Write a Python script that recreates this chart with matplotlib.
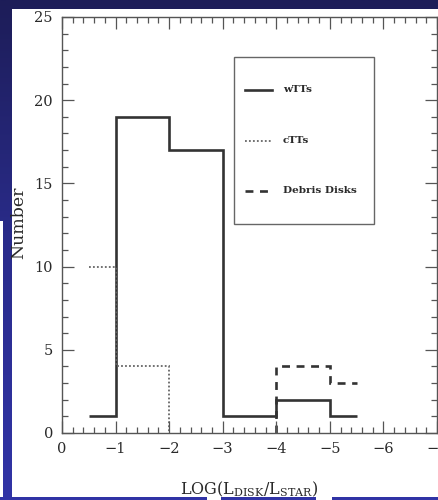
import numpy as np
import matplotlib.pyplot as plt
from matplotlib.patches import Rectangle
from matplotlib.lines import Line2D
from matplotlib.colors import LinearSegmentedColormap

# histogram data (bin edges along LOG(Ldisk/Lstar), counts per bin)
wtts_edges = [-0.5, -1, -2, -3, -4, -5, -5.5]
wtts_counts = [1, 19, 17, 1, 2, 1]

ctts_edges = [-0.5, -1, -2, -2]
ctts_counts = [10, 4, 0]

debris_edges = [-4, -4, -5, -5.5]
debris_counts = [0, 4, 3]

legend_labels = ["wTTs", "cTTs", "Debris Disks"]

plt.rcParams['font.family'] = ['DejaVu Serif']
plt.rcParams['mathtext.fontset'] = 'dejavuserif'

fig = plt.figure(figsize=(4.39, 5.0), dpi=100)

# slide background: navy gradient with a white panel
bg = fig.add_axes([0, 0, 1, 1], zorder=-10)
bg.set_axis_off()
grad = np.linspace(0, 1, 256).reshape(-1, 1)
navy = LinearSegmentedColormap.from_list("navy", ["#1d1d58", "#2a2c8c", "#3134a6"])
bg.imshow(grad, aspect='auto', cmap=navy, extent=[0, 1, 0, 1], origin='upper')
W, H = 439.0, 500.0
def px_rect(x0, y0, x1, y1):
    bg.add_patch(Rectangle((x0 / W, 1 - y1 / H), (x1 - x0) / W, (y1 - y0) / H,
                           facecolor="white", edgecolor="none"))
px_rect(12, 9, 440, 497)
px_rect(0, 221, 2.5, 497)
px_rect(207, 496, 221, 501)
px_rect(316, 496, 332, 501)
bg.set_xlim(0, 1)
bg.set_ylim(0, 1)

ax = fig.add_axes([62 / W, 1 - 433 / H, 375 / W, 416 / H])
ax.set_facecolor("none")

ax.stairs(wtts_counts, wtts_edges, baseline=None, color="#333333", lw=1.9)
ax.stairs(ctts_counts, ctts_edges, baseline=None, color="#666666", lw=1.3,
          linestyle=(0, (1, 1.2)))
ax.stairs(debris_counts, debris_edges, baseline=None, color="#333333", lw=1.9,
          linestyle=(0, (3, 2.5)))

ax.set_xlim(0, -7)
ax.set_ylim(0, 25)
ax.set_xticks(np.arange(0, -8, -1))
ax.set_xticks(np.arange(0, -7.01, -0.2), minor=True)
ax.set_yticks(np.arange(0, 26, 5))
ax.set_yticks(np.arange(0, 26, 1), minor=True)
ax.xaxis.set_major_formatter(plt.FuncFormatter(lambda v, p: "0" if v == 0 else "\u2212%d" % abs(v)))
ax.tick_params(which='both', direction='in', top=True, right=True,
               color="#555555", width=0.9, labelcolor="#2a2a2a", labelsize=10.5, pad=6.5)
ax.tick_params(which='major', length=8.5)
ax.tick_params(which='minor', length=4.3)
for s in ax.spines.values():
    s.set_color("#555555")
    s.set_linewidth(1.0)

ax.set_xlabel(r"LOG(L$_{\mathrm{DISK}}$/L$_{\mathrm{STAR}}$)", fontsize=11.5,
              color="#2a2a2a", labelpad=17)
ax.set_ylabel("Number", fontsize=12.5, color="#2a2a2a")
ax.yaxis.set_label_coords(-0.092, 0.505)

# legend box drawn in axes coordinates
ax.add_patch(Rectangle((0.459, 0.502), 0.373, 0.402, transform=ax.transAxes,
                       facecolor="white", edgecolor="#666666", lw=1.0, zorder=5))
styles = [dict(color="#333333", lw=1.9, ls="-"),
          dict(color="#666666", lw=1.3, ls=(0, (1, 1.2))),
          dict(color="#333333", lw=1.9, ls=(0, (3, 2.5)))]
ys = [0.825, 0.702, 0.582]
for lab, st, yy in zip(legend_labels, styles, ys):
    ax.add_line(Line2D([0.488, 0.56], [yy, yy], transform=ax.transAxes, zorder=6, **st))
    ax.text(0.589, yy, lab, transform=ax.transAxes, fontsize=7.5, fontweight='bold',
            color="#2a2a2a", va='center', ha='left', zorder=6)

fig.savefig("out.png", dpi=100)
